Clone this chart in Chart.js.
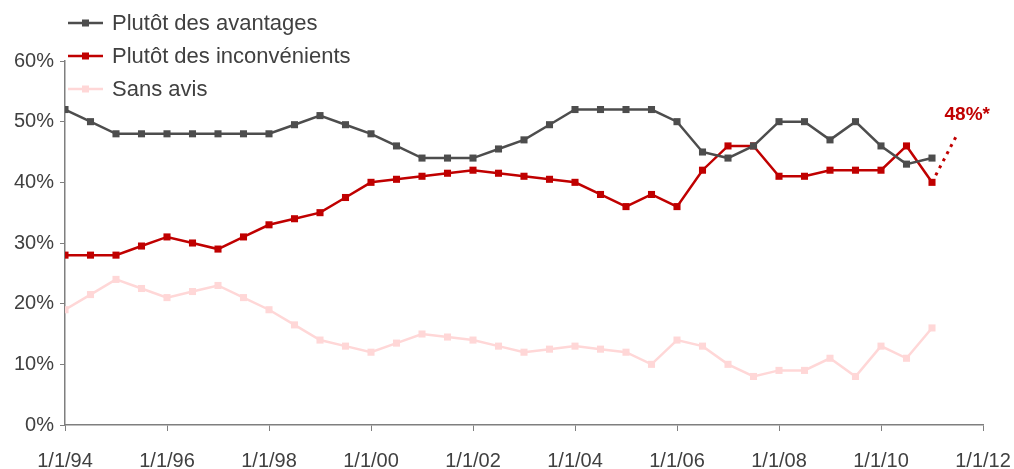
<!DOCTYPE html>
<html>
<head>
<meta charset="utf-8">
<script src="https://cdn.jsdelivr.net/npm/chart.js@4"></script>
<style>
  html, body { margin: 0; padding: 0; background: #fff; }
  #wrap { width: 1014px; height: 469px; position: relative; }
</style>
</head>
<body>
<div id="wrap"><canvas id="myChart"></canvas></div>
<script>
/*  Opinion chart  */

  const years = [1994, 1994.5, 1995, 1995.5, 1996, 1996.5, 1997, 1997.5, 1998, 1998.5,
    1999, 1999.5, 2000, 2000.5, 2001, 2001.5, 2002, 2002.5, 2003, 2003.5,
    2004, 2004.5, 2005, 2005.5, 2006, 2006.5, 2007, 2007.5, 2008, 2008.5,
    2009, 2009.5, 2010, 2010.5, 2011];
  const avantages = [52, 50, 48, 48, 48, 48, 48, 48, 48, 49.5,
    51, 49.5, 48, 46, 44, 44, 44, 45.5, 47, 49.5,
    52, 52, 52, 52, 50, 45, 44, 46, 50, 50,
    47, 50, 46, 43, 44];
  const inconvenients = [28, 28, 28, 29.5, 31, 30, 29, 31, 33, 34,
    35, 37.5, 40, 40.5, 41, 41.5, 42, 41.5, 41, 40.5,
    40, 38, 36, 38, 36, 42, 46, 46, 41, 41,
    42, 42, 42, 46, 40];
  const sansAvis = [19, 21.5, 24, 22.5, 21, 22, 23, 21, 19, 16.5,
    14, 13, 12, 13.5, 15, 14.5, 14, 13, 12, 12.5,
    13, 12.5, 12, 10, 14, 13, 10, 8, 9, 9,
    11, 8, 13, 11, 16];
  const projYears = [2011, 2011.5];
  const projValues = [40, 48];
  const projLabel = '48%*';
  const seriesNames = ['Plutôt des avantages', 'Plutôt des inconvénients', 'Sans avis'];

  const GRAY = '#4d4d4d';
  const RED = '#c00000';
  const PINK = '#ffd7d7';
  const TEXT = '#404040';
  const AXIS = '#7f7f7f';

  const toPoints = (xs, ys) => xs.map((x, i) => ({ x: x, y: ys[i] }));

  const lineSet = (label, values, color) => ({
    label: label,
    data: toPoints(years, values),
    borderColor: color,
    backgroundColor: color,
    borderWidth: 2.5,
    pointStyle: 'rect',
    pointRadius: 5,
    pointHoverRadius: 5,
    pointBorderWidth: 0,
    tension: 0
  });

  // legend drawn over the plot, top left, like the original
  const legendPlugin = {
    id: 'overLegend',
    afterDraw(chart) {
      const ctx = chart.ctx;
      const rows = [23, 56, 89];
      ctx.save();
      chart.data.datasets.slice(0, 3).forEach((ds, i) => {
        const y = rows[i];
        ctx.strokeStyle = ds.borderColor;
        ctx.lineWidth = 2.5;
        ctx.beginPath();
        ctx.moveTo(68, y);
        ctx.lineTo(103, y);
        ctx.stroke();
        ctx.fillStyle = ds.borderColor;
        ctx.fillRect(82, y - 3.5, 7, 7);
        ctx.fillStyle = TEXT;
        ctx.font = '22px "Liberation Sans", Arial, sans-serif';
        ctx.textBaseline = 'middle';
        ctx.textAlign = 'left';
        ctx.fillText(ds.label, 112, y + 1);
      });
      ctx.restore();
    }
  };

  // "48%*" annotation above the end of the dotted projection
  const projLabelPlugin = {
    id: 'projLabel',
    afterDatasetsDraw(chart) {
      const xs = chart.scales.x, ys = chart.scales.y;
      const last = projYears.length - 1;
      const px = xs.getPixelForValue(projYears[last]);
      const py = ys.getPixelForValue(projValues[last]);
      const ctx = chart.ctx;
      ctx.save();
      ctx.fillStyle = RED;
      ctx.font = 'bold 19px "Liberation Sans", Arial, sans-serif';
      ctx.textBaseline = 'middle';
      ctx.textAlign = 'left';
      ctx.fillText(projLabel, px - 13, py - 19);
      ctx.restore();
    }
  };

  const ctx = document.getElementById('myChart').getContext('2d');
  const myChart = new Chart(ctx, {
    type: 'line',
    data: {
      datasets: [
        lineSet(seriesNames[0], avantages, GRAY),
        lineSet(seriesNames[1], inconvenients, RED),
        lineSet(seriesNames[2], sansAvis, PINK),
        {
          label: 'projection',
          data: toPoints(projYears, projValues),
          borderColor: RED,
          borderWidth: 3,
          borderDash: [3, 5],
          pointRadius: 0,
          tension: 0
        }
      ]
    },
    plugins: [legendPlugin, projLabelPlugin],
    options: {
      responsive: true,
      maintainAspectRatio: false,
      animation: false,
      layout: { padding: { top: 61, right: 31, left: 0, bottom: 0 } },
      plugins: {
        legend: { display: false },
        tooltip: { enabled: false }
      },
      scales: {
        x: {
          type: 'linear',
          min: 1994,
          max: 2012,
          grid: { drawOnChartArea: false, drawTicks: true, tickLength: 6, color: AXIS },
          border: { display: true, color: AXIS, width: 1.5 },
          afterFit(scale) {
            scale.height = 44;
            scale.paddingLeft = 0;
            scale.paddingRight = 0;
          },
          ticks: {
            stepSize: 2,
            maxRotation: 0,
            autoSkip: false,
            color: TEXT,
            padding: 18,
            font: { family: '"Liberation Sans", Arial, sans-serif', size: 20 },
            callback: (v) => '1/1/' + String(v % 100).padStart(2, '0')
          }
        },
        y: {
          min: 0,
          max: 60,
          grid: { drawOnChartArea: false, drawTicks: true, tickLength: 5, color: AXIS },
          border: { display: true, color: AXIS, width: 1.5 },
          afterFit(scale) { scale.width = 65; },
          ticks: {
            stepSize: 10,
            color: TEXT,
            padding: 6,
            font: { family: '"Liberation Sans", Arial, sans-serif', size: 20 },
            callback: (v) => v + '%'
          }
        }
      }
    }
  });
</script>
</body>
</html>
